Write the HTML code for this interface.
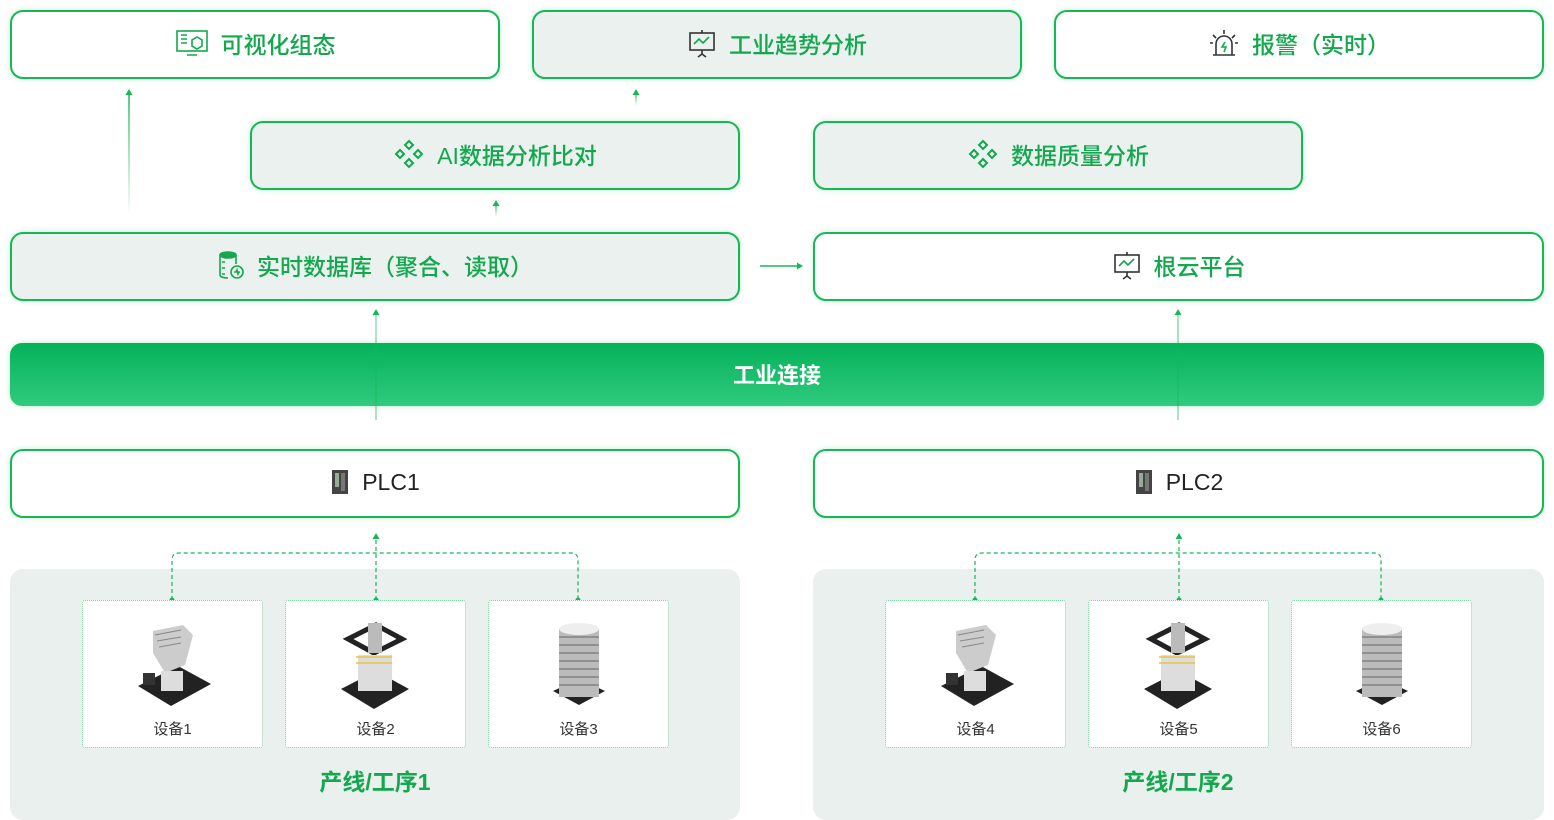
<!DOCTYPE html>
<html><head><meta charset="utf-8"><style>
body{margin:0;width:1554px;height:820px;background:#fff;position:relative;overflow:hidden;font-family:"Liberation Sans","Noto Sans CJK SC",sans-serif}
.b{position:absolute;box-sizing:border-box;border:2px solid #16b856;border-radius:13px;height:69px;display:flex;align-items:center;justify-content:center;color:#14a84e;font-size:23px;font-weight:500;box-shadow:0 0 6px rgba(22,184,86,.25);padding-bottom:3px}
.f{background:#eaf1ee}.w{background:#fff}
.b svg{margin-right:12px}
.bar{position:absolute;left:10px;top:343px;width:1534px;height:63px;border-radius:12px;background:linear-gradient(#05b159,#2fcb7e);color:#fff;font-size:22px;font-weight:600;display:flex;align-items:center;justify-content:center;box-shadow:0 0 6px rgba(22,184,86,.3);padding-bottom:2px;box-sizing:border-box}
.panel{position:absolute;top:569px;width:730px;height:251px;background:#eaf0ed;border-radius:13px}
.card{position:absolute;top:600px;width:181px;height:148px;box-sizing:border-box;background:#fff;border:1px dotted #6fd39a;border-radius:3px;font-size:15px;color:#333;text-align:center}
.card span{position:absolute;left:0;right:0;top:117px}
.card svg{position:absolute;left:50px;top:20px}
.pl{position:absolute;top:763px;width:730px;text-align:center;color:#14a84e;font-size:23px;font-weight:600}
.plc{color:#222;font-weight:400}
</style></head><body>
<div class="b w" style="left:10px;top:10px;width:490px"><svg width="34" height="28" viewBox="0 0 34 28" fill="none" stroke="#14a84e" stroke-width="1.6"><rect x="2" y="2" width="30" height="20"/><path d="M6 6h6M6 10h6M6 14h6M12 26h10"/><path d="M22 8l5 3v6l-5 3-5-3v-6z"/></svg>可视化组态</div>
<div class="b f" style="left:532px;top:10px;width:490px"><svg width="30" height="30" viewBox="0 0 30 30" fill="none" stroke="#333" stroke-width="1.6"><rect x="3" y="5" width="24" height="17"/><path d="M15 2v3M15 22v4l-4 3M15 26l4 3"/><path d="M7 16l5-5 4 4 6-6" stroke="#14a84e"/></svg>工业趋势分析</div>
<div class="b w" style="left:1054px;top:10px;width:490px"><svg width="32" height="30" viewBox="0 0 32 30" fill="none" stroke="#333" stroke-width="1.6"><path d="M8 27V16a8 8 0 0116 0v11zM5 27h22M16 2v4M5 7l3 3M27 7l-3 3M2 15h3M30 15h-3"/><path d="M17 14l-3 5h4l-2 5" stroke="#14a84e"/></svg>报警（实时）</div>
<div class="b f" style="left:250px;top:121px;width:490px"><svg width="32" height="32" viewBox="0 0 32 32" fill="none" stroke="#14a84e" stroke-width="2"><path d="M16 3l4 4-4 4-4-4zM16 21l4 4-4 4-4-4zM7 12l4 4-4 4-4-4zM25 12l4 4-4 4-4-4z"/></svg>AI数据分析比对</div>
<div class="b f" style="left:813px;top:121px;width:490px"><svg width="32" height="32" viewBox="0 0 32 32" fill="none" stroke="#14a84e" stroke-width="2"><path d="M16 3l4 4-4 4-4-4zM16 21l4 4-4 4-4-4zM7 12l4 4-4 4-4-4zM25 12l4 4-4 4-4-4z"/></svg>数据质量分析</div>
<div class="b f" style="left:10px;top:232px;width:730px"><svg width="28" height="30" viewBox="0 0 28 30" fill="none" stroke="#14a84e" stroke-width="1.6"><ellipse cx="11" cy="5" rx="8" ry="3" fill="#14a84e"/><path d="M3 5v20c0 2 4 3 8 3M19 5v9M5 12h3M5 18h3M5 24h3"/><circle cx="20" cy="22" r="6"/><path d="M17 22h2l1-2 1 4 1-2h1"/></svg>实时数据库（聚合、读取）</div>
<div class="b w" style="left:813px;top:232px;width:731px"><svg width="30" height="30" viewBox="0 0 30 30" fill="none" stroke="#333" stroke-width="1.6"><rect x="3" y="5" width="24" height="17"/><path d="M15 2v3M15 22v4l-4 3M15 26l4 3"/><path d="M7 16l5-5 4 4 6-6" stroke="#14a84e"/></svg>根云平台</div>
<div class="bar">工业连接</div>
<div class="b w plc" style="left:10px;top:449px;width:730px"><svg width="20" height="28" viewBox="0 0 20 28"><rect x="2" y="2" width="16" height="24" fill="#444"/><rect x="5" y="5" width="4" height="14" fill="#9a9"/><rect x="11" y="5" width="4" height="18" fill="#777"/></svg>PLC1</div>
<div class="b w plc" style="left:813px;top:449px;width:731px"><svg width="20" height="28" viewBox="0 0 20 28"><rect x="2" y="2" width="16" height="24" fill="#444"/><rect x="5" y="5" width="4" height="14" fill="#9a9"/><rect x="11" y="5" width="4" height="18" fill="#777"/></svg>PLC2</div>
<div class="panel" style="left:10px"></div><div class="panel" style="left:813px;width:731px"></div>
<div class="pl" style="left:10px">产线/工序1</div><div class="pl" style="left:813px">产线/工序2</div>
<svg width="1554" height="820" style="position:absolute;left:0;top:0">
<defs>
<linearGradient id="f1" gradientUnits="userSpaceOnUse" x1="0" y1="215" x2="0" y2="92"><stop offset="0" stop-color="#16b856" stop-opacity="0"/><stop offset="1" stop-color="#16b856"/></linearGradient>
<linearGradient id="f2" gradientUnits="userSpaceOnUse" x1="0" y1="106" x2="0" y2="92"><stop offset="0" stop-color="#16b856" stop-opacity="0"/><stop offset="1" stop-color="#16b856"/></linearGradient>
<linearGradient id="f3" gradientUnits="userSpaceOnUse" x1="0" y1="217" x2="0" y2="203"><stop offset="0" stop-color="#16b856" stop-opacity="0"/><stop offset="1" stop-color="#16b856"/></linearGradient>
<g id="ar"><path d="M-3.5 6L0 0 3.5 6z" fill="#16b856"/></g></defs>
<line x1="129" y1="215" x2="129" y2="92" stroke="url(#f1)" stroke-width="1.5"/><use href="#ar" x="129" y="89"/>
<line x1="636" y1="106" x2="636" y2="92" stroke="url(#f2)" stroke-width="1.5"/><use href="#ar" x="636" y="89"/>
<line x1="496" y1="217" x2="496" y2="203" stroke="url(#f3)" stroke-width="1.5"/><use href="#ar" x="496" y="200"/>
<line x1="376" y1="420" x2="376" y2="313" stroke="#16b856" stroke-width="1.2" opacity=".6"/><use href="#ar" x="376" y="309"/>
<line x1="1178" y1="420" x2="1178" y2="313" stroke="#16b856" stroke-width="1.2" opacity=".6"/><use href="#ar" x="1178" y="309"/>
<line x1="760" y1="266" x2="797" y2="266" stroke="#16b856" stroke-width="1.5"/><path d="M803 266l-6-3.5v7z" fill="#16b856"/>
<g fill="none" stroke="#16b856" stroke-width="1.2" stroke-dasharray="4 3">
<path d="M172 600v-40q0-7 7-7h392q7 0 7 7v40M376 600v-62"/>
<path d="M975 600v-40q0-7 7-7h392q7 0 7 7v40M1179 600v-62"/></g>
<use href="#ar" x="376" y="533"/><use href="#ar" x="1179" y="533"/>
<g fill="#16b856"><circle cx="172" cy="600" r="2.5"/><circle cx="376" cy="600" r="2.5"/><circle cx="578" cy="600" r="2.5"/><circle cx="975" cy="600" r="2.5"/><circle cx="1179" cy="600" r="2.5"/><circle cx="1381" cy="600" r="2.5"/></g>
</svg>
<div class="card" style="left:82px"><svg width="80" height="92" viewBox="0 0 80 92"><path d="M5 65l40-20 33 18-40 22z" fill="#222"/><path d="M20 10l30-6 10 10-8 30-20 8-12-20z" fill="#ccc"/><path d="M22 14l26-5M24 20l24-4M26 26l22-4" stroke="#888"/><rect x="10" y="52" width="12" height="12" fill="#333"/><rect x="28" y="50" width="22" height="20" fill="#ddd"/></svg><span>设备1</span></div>
<div class="card" style="left:285px"><svg width="80" height="92" viewBox="0 0 80 92"><path d="M5 68l35-18 33 18-35 20z" fill="#222"/><path d="M12 18l28-14 26 14-28 14z" fill="none" stroke="#222" stroke-width="5"/><rect x="32" y="2" width="14" height="30" fill="#bbb"/><rect x="22" y="34" width="34" height="36" fill="#ddd"/><path d="M20 36l36 0M20 42l36 0" stroke="#e8c440" stroke-width="1.5"/></svg><span>设备2</span></div>
<div class="card" style="left:488px"><svg width="80" height="92" viewBox="0 0 80 92"><path d="M14 70l26 14 26-14-26-12z" fill="#222"/><rect x="20" y="8" width="40" height="68" fill="#bbb"/><ellipse cx="40" cy="8" rx="20" ry="6" fill="#eee"/><path d="M20 16h40M20 24h40M20 32h40M20 40h40M20 48h40M20 56h40M20 64h40" stroke="#666"/></svg><span>设备3</span></div>
<div class="card" style="left:885px"><svg width="80" height="92" viewBox="0 0 80 92"><path d="M5 65l40-20 33 18-40 22z" fill="#222"/><path d="M20 10l30-6 10 10-8 30-20 8-12-20z" fill="#ccc"/><path d="M22 14l26-5M24 20l24-4M26 26l22-4" stroke="#888"/><rect x="10" y="52" width="12" height="12" fill="#333"/><rect x="28" y="50" width="22" height="20" fill="#ddd"/></svg><span>设备4</span></div>
<div class="card" style="left:1088px"><svg width="80" height="92" viewBox="0 0 80 92"><path d="M5 68l35-18 33 18-35 20z" fill="#222"/><path d="M12 18l28-14 26 14-28 14z" fill="none" stroke="#222" stroke-width="5"/><rect x="32" y="2" width="14" height="30" fill="#bbb"/><rect x="22" y="34" width="34" height="36" fill="#ddd"/><path d="M20 36l36 0M20 42l36 0" stroke="#e8c440" stroke-width="1.5"/></svg><span>设备5</span></div>
<div class="card" style="left:1291px"><svg width="80" height="92" viewBox="0 0 80 92"><path d="M14 70l26 14 26-14-26-12z" fill="#222"/><rect x="20" y="8" width="40" height="68" fill="#bbb"/><ellipse cx="40" cy="8" rx="20" ry="6" fill="#eee"/><path d="M20 16h40M20 24h40M20 32h40M20 40h40M20 48h40M20 56h40M20 64h40" stroke="#666"/></svg><span>设备6</span></div>
</body></html>
